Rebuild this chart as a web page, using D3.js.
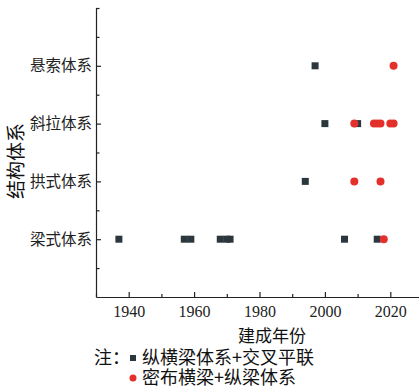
<!DOCTYPE html>
<html><head><meta charset="utf-8">
<script src="https://cdn.jsdelivr.net/npm/d3@7"></script>
<style>body{margin:0;background:#fff;} svg{display:block;}</style>
</head><body>
<svg id="c" width="419" height="388"></svg>
<script>
const categories = ["梁式体系","拱式体系","斜拉体系","悬索体系"];
const xTicks = [1940,1960,1980,2000,2020];
const xMinorTicks = [1930,1950,1970,1990,2010];
// 纵横梁体系+交叉平联 (squares): [category, year]
const squareCats  = ["梁式体系","梁式体系","梁式体系","梁式体系","梁式体系","梁式体系","梁式体系","梁式体系","拱式体系","斜拉体系","斜拉体系","悬索体系"];
const squareYears = [1937,1957,1959,1968,1970,1971,2006,2016,1994,2000,2010,1997];
// 密布横梁+纵梁体系 (circles)
const circleCats  = ["梁式体系","拱式体系","拱式体系","斜拉体系","斜拉体系","斜拉体系","斜拉体系","斜拉体系","斜拉体系","悬索体系"];
const circleYears = [2018,2009,2017,2009,2015,2016,2017,2020,2021,2021];
const legendLabels = ["纵横梁体系+交叉平联","密布横梁+纵梁体系"];
const noteLabel = "注：";
const xTitle = "建成年份";
const yTitle = "结构体系";

const sqColor = "#2c373d", ciColor = "#e3302a";
const cjk = "'Noto Sans CJK SC', sans-serif";
const svg = d3.select("#c");
const x = d3.scaleLinear().domain([1930,2030]).range([96,423]);
const y = d3.scaleLinear().domain([0,5]).range([297,8]);
const catVal = c => categories.indexOf(c) + 1;

// Y axis
const yAxis = d3.axisLeft(y).tickValues([1,2,3,4]).tickSize(-5).tickSizeOuter(0).tickPadding(4)
  .tickFormat(d => categories[d-1]);
const gy = svg.append("g").attr("transform","translate(96,0)").call(yAxis);
gy.selectAll("text").attr("font-family",cjk).attr("font-size",15.5).attr("fill","#222");
gy.selectAll("line, path").attr("stroke","#222").attr("stroke-width",1.2);
const yMinor = d3.axisLeft(y).tickValues([0.5,1.5,2.5,3.5,4.5,5]).tickSize(-3.5).tickSizeOuter(0).tickFormat("");
const gym = svg.append("g").attr("transform","translate(96,0)").call(yMinor);
gym.select("path").remove();
gym.selectAll("line").attr("stroke","#222").attr("stroke-width",1.2);

// X axis
const xAxis = d3.axisBottom(x).tickValues(xTicks).tickSize(-5).tickSizeOuter(0).tickPadding(9).tickFormat(d3.format("d"));
const gx = svg.append("g").attr("transform","translate(0,297)").call(xAxis);
gx.selectAll("text").attr("font-family","'Liberation Serif', serif").attr("font-size",16).attr("fill","#222");
gx.selectAll("line, path").attr("stroke","#222").attr("stroke-width",1.2);
const xMinor = d3.axisBottom(x).tickValues(xMinorTicks).tickSize(-3).tickSizeOuter(0).tickFormat("");
const gxm = svg.append("g").attr("transform","translate(0,297)").call(xMinor);
gxm.select("path").remove();
gxm.selectAll("line").attr("stroke","#222").attr("stroke-width",1.2);

// Titles
svg.append("text").attr("x",272).attr("y",336).attr("dy","0.35em").attr("text-anchor","middle")
  .attr("font-family",cjk).attr("font-size",17).attr("fill","#111").text(xTitle);
svg.append("text").attr("transform","translate(16,161) rotate(-90)").attr("dy","0.35em").attr("text-anchor","middle")
  .attr("font-family",cjk).attr("font-size",19).attr("fill","#111").text(yTitle);

// Points
const s = 7;
svg.append("g").selectAll("rect").data(squareYears.map((yr,i)=>({yr,c:squareCats[i]}))).join("rect")
  .attr("x",d=>x(d.yr)-s/2).attr("y",d=>y(catVal(d.c))-s/2).attr("width",s).attr("height",s).attr("fill",sqColor);
svg.append("g").selectAll("circle").data(circleYears.map((yr,i)=>({yr,c:circleCats[i]}))).join("circle")
  .attr("cx",d=>x(d.yr)).attr("cy",d=>y(catVal(d.c))).attr("r",4).attr("fill",ciColor);

// Legend
svg.append("text").attr("x",94).attr("y",358).attr("dy","0.35em").attr("font-family",cjk).attr("font-size",18)
  .attr("fill","#111").text(noteLabel);
svg.append("rect").attr("x",130).attr("y",355).attr("width",6).attr("height",6).attr("fill",sqColor);
svg.append("text").attr("x",142).attr("y",358).attr("dy","0.35em").attr("font-family",cjk).attr("font-size",18)
  .attr("fill","#111").text(legendLabels[0]);
svg.append("circle").attr("cx",133).attr("cy",378).attr("r",3.5).attr("fill",ciColor);
svg.append("text").attr("x",142).attr("y",378).attr("dy","0.35em").attr("font-family",cjk).attr("font-size",18)
  .attr("fill","#111").text(legendLabels[1]);
</script>
</body></html>
